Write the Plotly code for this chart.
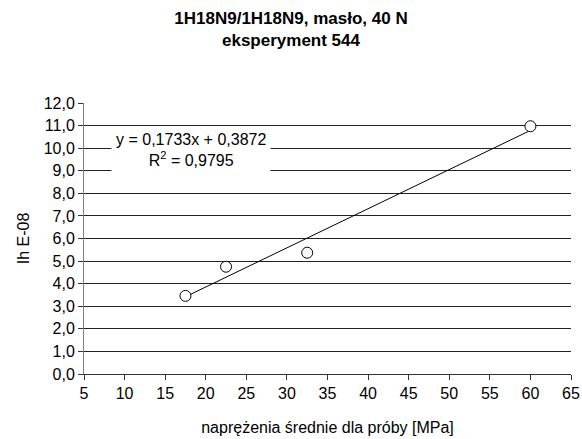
import plotly.graph_objects as go

# Data
x_vals = [17.5, 22.5, 32.5, 60.0]
y_vals = [3.46, 4.75, 5.37, 10.97]
slope = 0.1733
intercept = 0.3872
r2 = 0.9795

title_lines = ["1H18N9/1H18N9, masło, 40 N", "eksperyment 544"]
x_title = "naprężenia średnie dla próby [MPa]"
y_title = "Ih E-08"

FONT = "Liberation Sans, Arial, sans-serif"

trend_x = [min(x_vals), max(x_vals)]
trend_y = [slope * v + intercept for v in trend_x]

fig = go.Figure()
fig.add_trace(go.Scatter(x=trend_x, y=trend_y, mode="lines",
                         line=dict(color="black", width=1), showlegend=False,
                         hoverinfo="skip"))
fig.add_trace(go.Scatter(x=x_vals, y=y_vals, mode="markers",
                         marker=dict(symbol="circle", size=11, color="white",
                                     line=dict(color="black", width=1)),
                         showlegend=False))

eq_text = (f"y = {slope:.4f}x + {intercept:.4f}".replace(".", ",")
           + "<br>R<sup>2</sup> = " + f"{r2:.4f}".replace(".", ","))

fig.add_annotation(x=18.2, y=9.9, xref="x", yref="y", text=eq_text,
                   showarrow=False, bgcolor="white", borderpad=4,
                   font=dict(family=FONT, size=16, color="black"),
                   align="center", xanchor="center", yanchor="middle")

fig.update_layout(
    width=582, height=439,
    margin=dict(l=84, r=11, t=103, b=65, autoexpand=False),
    paper_bgcolor="white", plot_bgcolor="white",
    separators=", ",
    font=dict(family=FONT, size=16, color="black"),
    title=dict(text="<b>" + title_lines[0] + "</b><br><b>" + title_lines[1] + "</b>",
               x=0.5, xref="container", xanchor="center",
               y=1 - 24 / 439, yref="container", yanchor="middle",
               automargin=False,
               font=dict(family=FONT, size=17, color="black")),
    xaxis=dict(range=[5, 65], dtick=5, tick0=5, showgrid=False, zeroline=False,
               showline=True, linecolor="#333333", linewidth=1,
               ticks="outside", ticklen=5, tickcolor="#333333",
               automargin=False,
               title=dict(text=x_title, standoff=20,
                          font=dict(family=FONT, size=16))),
    yaxis=dict(range=[0, 12], dtick=1, tick0=0, tickformat=".1f",
               showgrid=True, gridcolor="#222222", gridwidth=1, zeroline=False,
               showline=True, linecolor="#808080", linewidth=1,
               ticks="outside", ticklen=5, tickcolor="#333333",
               automargin=False,
               title=dict(text=y_title, standoff=10,
                          font=dict(family=FONT, size=16))),
)

fig.write_html("out.html",
               config={"displayModeBar": False},
               post_script="document.body.style.margin='0';"
                           "document.body.style.overflow='hidden';")
